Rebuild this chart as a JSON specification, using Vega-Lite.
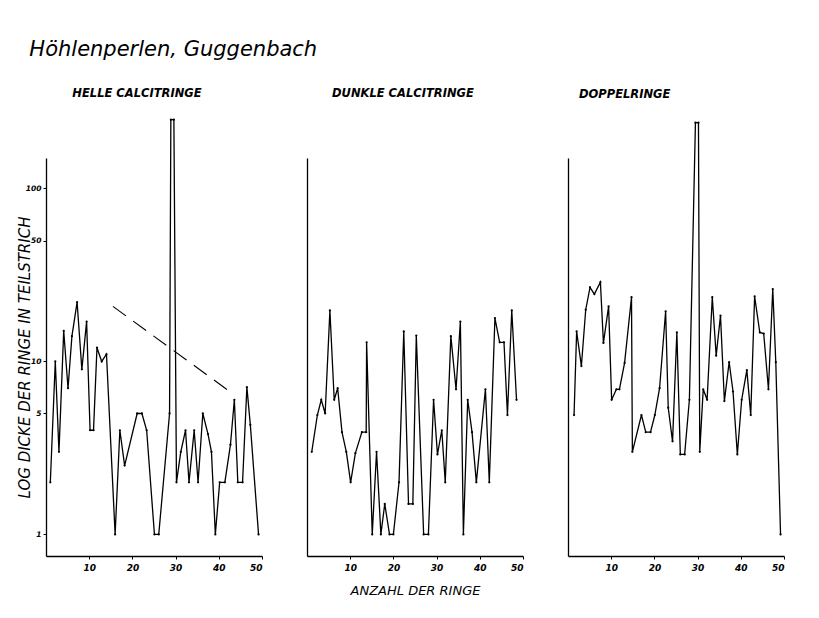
{
  "$schema": "https://vega.github.io/schema/vega-lite/v6.json",
  "background": "white",
  "padding": {"left": 17, "top": 38, "right": 5, "bottom": 5},
  "title": {
    "text": "Höhlenperlen, Guggenbach",
    "anchor": "start",
    "dx": 12,
    "offset": 28,
    "font": "DejaVu Sans",
    "fontSize": 21,
    "fontStyle": "italic",
    "fontWeight": "normal",
    "color": "black"
  },
  "config": {
    "view": {"stroke": null},
    "font": "DejaVu Sans",
    "axis": {
      "grid": false,
      "domainColor": "black",
      "domainWidth": 1.3,
      "tickColor": "black",
      "tickSize": 3,
      "tickWidth": 1,
      "labelColor": "black",
      "labelFont": "DejaVu Sans",
      "labelFontSize": 9,
      "labelFontStyle": "italic",
      "labelFontWeight": "bold",
      "titleColor": "black",
      "titleFont": "DejaVu Sans",
      "titleFontStyle": "italic",
      "titleFontWeight": "normal",
      "titleFontSize": 13
    },
    "title": {"color": "black", "font": "DejaVu Sans"}
  },
  "datasets": {
    "p1": [
      {"x": 1.0, "y": 2}, {"x": 2.15, "y": 10}, {"x": 3.0, "y": 3}, {"x": 4.1, "y": 15},
      {"x": 5.1, "y": 7}, {"x": 6.0, "y": 14}, {"x": 7.2, "y": 22}, {"x": 8.3, "y": 9},
      {"x": 9.4, "y": 17}, {"x": 10.2, "y": 4}, {"x": 11.0, "y": 4}, {"x": 11.8, "y": 12},
      {"x": 12.9, "y": 10}, {"x": 14.0, "y": 11}, {"x": 16.0, "y": 1}, {"x": 17.1, "y": 4},
      {"x": 18.2, "y": 2.5}, {"x": 21.1, "y": 5}, {"x": 22.2, "y": 5}, {"x": 23.3, "y": 4},
      {"x": 25.1, "y": 1}, {"x": 26.1, "y": 1}, {"x": 28.6, "y": 5}, {"x": 28.9, "y": 250},
      {"x": 29.6, "y": 250}, {"x": 30.2, "y": 2}, {"x": 31.2, "y": 3}, {"x": 32.3, "y": 4},
      {"x": 33.1, "y": 2}, {"x": 34.3, "y": 4}, {"x": 35.2, "y": 2}, {"x": 36.3, "y": 5},
      {"x": 37.5, "y": 3.8}, {"x": 38.3, "y": 3}, {"x": 39.2, "y": 1}, {"x": 40.2, "y": 2},
      {"x": 41.4, "y": 2}, {"x": 42.7, "y": 3.3}, {"x": 43.6, "y": 6}, {"x": 44.4, "y": 2},
      {"x": 45.5, "y": 2}, {"x": 46.5, "y": 7.1}, {"x": 47.3, "y": 4.3}, {"x": 49.2, "y": 1}
    ],
    "dash": [
      {"x": 15.5, "y": 20.8}, {"x": 42.9, "y": 6.6}
    ],
    "p2": [
      {"x": 1.1, "y": 3}, {"x": 2.4, "y": 4.9}, {"x": 3.3, "y": 6}, {"x": 4.2, "y": 5},
      {"x": 5.3, "y": 19.7}, {"x": 6.3, "y": 6}, {"x": 7.1, "y": 7}, {"x": 8.1, "y": 3.9},
      {"x": 9.1, "y": 3}, {"x": 10.1, "y": 2}, {"x": 11.2, "y": 2.95}, {"x": 12.7, "y": 3.9},
      {"x": 13.7, "y": 3.9}, {"x": 13.8, "y": 12.9}, {"x": 15.1, "y": 1}, {"x": 16.1, "y": 3},
      {"x": 17.1, "y": 1}, {"x": 18.0, "y": 1.5}, {"x": 19.1, "y": 1}, {"x": 20.0, "y": 1},
      {"x": 21.3, "y": 2}, {"x": 22.4, "y": 14.9}, {"x": 23.5, "y": 1.5}, {"x": 24.5, "y": 1.5},
      {"x": 25.3, "y": 14.1}, {"x": 27.0, "y": 1}, {"x": 28.1, "y": 1}, {"x": 29.3, "y": 6},
      {"x": 30.2, "y": 2.9}, {"x": 31.2, "y": 4}, {"x": 32.0, "y": 2}, {"x": 33.3, "y": 14},
      {"x": 34.5, "y": 6.9}, {"x": 35.5, "y": 17}, {"x": 36.2, "y": 1}, {"x": 37.2, "y": 6},
      {"x": 38.2, "y": 3.9}, {"x": 39.2, "y": 2}, {"x": 41.3, "y": 6.9}, {"x": 42.2, "y": 2},
      {"x": 43.5, "y": 17.8}, {"x": 44.6, "y": 12.9}, {"x": 45.6, "y": 12.9}, {"x": 46.4, "y": 4.9},
      {"x": 47.4, "y": 19.7}, {"x": 48.5, "y": 6}
    ],
    "p3": [
      {"x": 1.4, "y": 4.9}, {"x": 2.0, "y": 14.9}, {"x": 3.1, "y": 9.4}, {"x": 4.1, "y": 19.9},
      {"x": 5.1, "y": 26.8}, {"x": 6.1, "y": 24.5}, {"x": 7.5, "y": 28.7}, {"x": 8.2, "y": 12.8},
      {"x": 9.4, "y": 20.8}, {"x": 10.1, "y": 6}, {"x": 11.2, "y": 6.9}, {"x": 11.9, "y": 6.9},
      {"x": 13.1, "y": 9.8}, {"x": 14.7, "y": 23.5}, {"x": 14.9, "y": 3}, {"x": 17.0, "y": 4.9},
      {"x": 18.0, "y": 3.9}, {"x": 19.1, "y": 3.9}, {"x": 20.1, "y": 4.9}, {"x": 21.2, "y": 7},
      {"x": 22.6, "y": 19.5}, {"x": 23.2, "y": 5.4}, {"x": 24.2, "y": 3.45}, {"x": 25.2, "y": 14.7},
      {"x": 26.0, "y": 2.9}, {"x": 27.0, "y": 2.9}, {"x": 28.1, "y": 6}, {"x": 29.5, "y": 240},
      {"x": 30.2, "y": 240}, {"x": 30.5, "y": 3}, {"x": 31.3, "y": 6.9}, {"x": 32.2, "y": 6},
      {"x": 33.4, "y": 23.5}, {"x": 34.3, "y": 10.8}, {"x": 35.3, "y": 18.4}, {"x": 36.2, "y": 5.9},
      {"x": 37.3, "y": 9.9}, {"x": 38.2, "y": 6.7}, {"x": 39.2, "y": 2.9}, {"x": 40.2, "y": 6},
      {"x": 41.4, "y": 8.9}, {"x": 42.3, "y": 4.9}, {"x": 43.2, "y": 23.8}, {"x": 44.4, "y": 14.7},
      {"x": 45.3, "y": 14.5}, {"x": 46.4, "y": 6.9}, {"x": 47.4, "y": 26.2}, {"x": 48.1, "y": 9.9},
      {"x": 49.2, "y": 1}
    ]
  },
  "spacing": 44,
  "hconcat": [
    {
      "width": 216,
      "height": 398,
      "title": {"text": "HELLE CALCITRINGE", "anchor": "start", "dx": 55, "offset": 18, "fontSize": 11.5, "fontStyle": "italic", "fontWeight": "bold"},
      "layer": [
        {
          "data": {"name": "p1"},
          "mark": {"type": "line", "color": "black", "strokeWidth": 1.3, "clip": false, "point": {"filled": true, "size": 5, "color": "black"}},
          "encoding": {
            "x": {"field": "x", "type": "quantitative", "scale": {"domain": [0, 50], "nice": false}, "axis": {"values": [10, 20, 30, 40, 50], "title": null, "labelPadding": 4}},
            "y": {"field": "y", "type": "quantitative", "scale": {"type": "log", "domain": [0.75, 150], "nice": false}, "axis": {"values": [1, 5, 10, 50, 100], "title": "LOG DICKE DER RINGE IN TEILSTRICH", "titleFontSize": 15, "labelFontSize": 7.5, "labelPadding": 2, "titlePadding": -7}}
          }
        },
        {
          "data": {"name": "dash"},
          "mark": {"type": "line", "color": "black", "strokeWidth": 1.1, "strokeDash": [16, 9]},
          "encoding": {
            "x": {"field": "x", "type": "quantitative"},
            "y": {"field": "y", "type": "quantitative"}
          }
        }
      ]
    },
    {
      "width": 216,
      "height": 398,
      "title": {"text": "DUNKLE CALCITRINGE", "anchor": "start", "dx": 25, "offset": 59, "fontSize": 11.5, "fontStyle": "italic", "fontWeight": "bold"},
      "data": {"name": "p2"},
      "mark": {"type": "line", "color": "black", "strokeWidth": 1.3, "clip": false, "point": {"filled": true, "size": 5, "color": "black"}},
      "encoding": {
        "x": {"field": "x", "type": "quantitative", "scale": {"domain": [0, 50], "nice": false}, "axis": {"values": [10, 20, 30, 40, 50], "title": "ANZAHL DER RINGE", "labelPadding": 4, "titlePadding": 12}},
        "y": {"field": "y", "type": "quantitative", "scale": {"type": "log", "domain": [0.75, 150], "nice": false}, "axis": {"labels": false, "ticks": false, "title": null}}
      }
    },
    {
      "width": 216,
      "height": 398,
      "title": {"text": "DOPPELRINGE", "anchor": "start", "dx": 11, "offset": 20, "fontSize": 11.5, "fontStyle": "italic", "fontWeight": "bold"},
      "data": {"name": "p3"},
      "mark": {"type": "line", "color": "black", "strokeWidth": 1.3, "clip": false, "point": {"filled": true, "size": 5, "color": "black"}},
      "encoding": {
        "x": {"field": "x", "type": "quantitative", "scale": {"domain": [0, 50], "nice": false}, "axis": {"values": [10, 20, 30, 40, 50], "title": null, "labelPadding": 4}},
        "y": {"field": "y", "type": "quantitative", "scale": {"type": "log", "domain": [0.75, 150], "nice": false}, "axis": {"labels": false, "ticks": false, "title": null}}
      }
    }
  ]
}
